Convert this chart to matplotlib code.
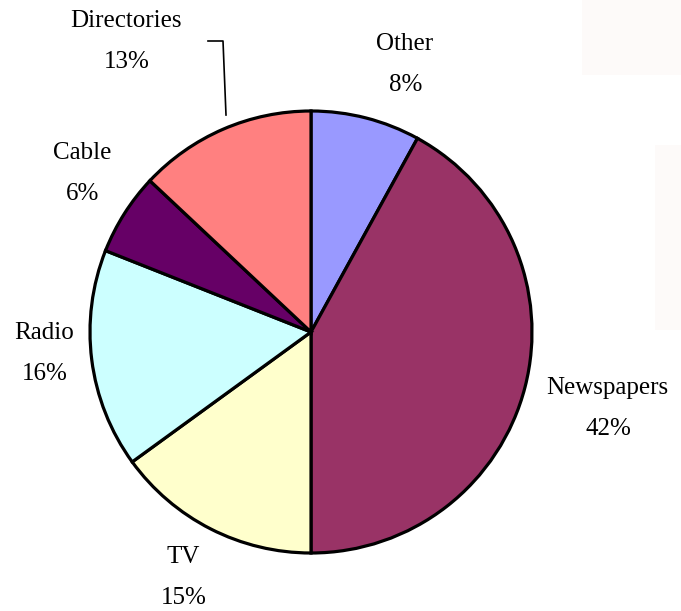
import matplotlib.pyplot as plt
from matplotlib.patches import Rectangle

labels = ["Other", "Newspapers", "TV", "Radio", "Cable", "Directories"]
shares = [8, 42, 15, 16, 6, 13]
colors = ["#9999FF", "#993366", "#FFFFCC", "#CCFFFF", "#660066", "#FF8080"]

# label anchor points (name line, pixels from top-left)
label_pos = {
    "Other": (405, 44),
    "Newspapers": (607, 388),
    "TV": (183, 557),
    "Radio": (44, 333),
    "Cable": (82, 153),
    "Directories": (126, 21),
}

W, H = 681, 611
fig = plt.figure(figsize=(W / 100, H / 100), dpi=100)
ax = fig.add_axes([0, 0, 1, 1])

# faint shapes in the background on the right
ax.add_patch(Rectangle((582, H - 75), 99, 75, color="#fdfaf9", lw=0, zorder=0))
ax.add_patch(Rectangle((655, H - 330), 26, 185, color="#fdfaf9", lw=0, zorder=0))

cx, cy, r = 311, H - 332, 221
ax.pie(shares, colors=colors, startangle=90, counterclock=False,
       center=(cx, cy), radius=r, frame=True,
       wedgeprops=dict(edgecolor="black", linewidth=2.3))

font = dict(family="Liberation Serif", size=18, color="black",
            ha="center", va="center")
for name, val in zip(labels, shares):
    x, y = label_pos[name]
    ax.text(x, H - y, name, **font)
    ax.text(x + 1, H - y - 41, f"{val}%", **font)

# leader line for Directories
ax.plot([208, 223, 226], [H - 41, H - 41, H - 115], color="black", lw=1.2)

ax.set_xlim(0, W)
ax.set_ylim(0, H)
ax.set_aspect("auto")
ax.axis("off")

fig.savefig("out.png", dpi=100)
